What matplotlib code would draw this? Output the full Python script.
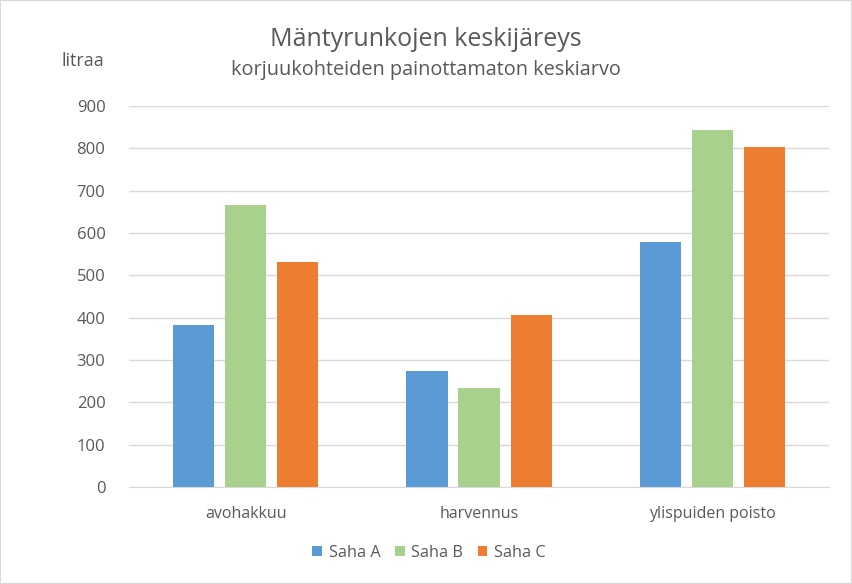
import matplotlib
matplotlib.use("Agg")
import matplotlib.pyplot as plt
import numpy as np
from matplotlib.patches import Rectangle

categories = ["avohakkuu", "harvennus", "ylispuiden poisto"]
series_names = ["Saha A", "Saha B", "Saha C"]
saha_a = [383, 274, 579]
saha_b = [666, 234, 843]
saha_c = [531, 406, 803]
colors = ["#5B9BD5", "#A9D18E", "#ED7D31"]
yticks = [0, 100, 200, 300, 400, 500, 600, 700, 800, 900]

plt.rcParams['font.family'] = ['Open Sans', 'DejaVu Sans']
txt = "#595959"

fig = plt.figure(figsize=(8.52, 5.84), dpi=100)
ax = fig.add_axes([129/852, 1-487/584, 700/852, (487-106)/584])

x = np.arange(len(categories))
w = 0.176
step = 0.223
for i, (vals, name, c) in enumerate(zip([saha_a, saha_b, saha_c], series_names, colors)):
    ax.bar(x + (i-1)*step, vals, width=w, color=c, label=name, zorder=3)

ax.set_xlim(-0.5, 2.5)
ax.set_ylim(0, 900)
ax.set_yticks(yticks)
ax.set_yticklabels([str(t) for t in yticks], color=txt, fontsize=12)
ax.set_xticks(x)
ax.set_xticklabels(categories, color=txt, fontsize=11.5)
ax.tick_params(axis='both', length=0)
ax.tick_params(axis='y', pad=17)
ax.tick_params(axis='x', pad=14)
ax.grid(axis='y', color="#D9D9D9", linewidth=1, zorder=0)
for s in ["top", "right", "left"]:
    ax.spines[s].set_visible(False)
ax.spines["bottom"].set_color("#D9D9D9")

fig.text(0.5, 1-39/584, "Mäntyrunkojen keskijäreys", ha="center", va="center", fontsize=18, color=txt)
fig.text(0.5, 1-70/584, "korjuukohteiden painottamaton keskiarvo", ha="center", va="center", fontsize=14.3, color=txt)
fig.text(62/852, 1-61/584, "litraa", ha="left", va="center", fontsize=13, color=txt)

leg = fig.legend(loc="center", bbox_to_anchor=(429/852, 1-553/584), ncol=3, frameon=False,
                 fontsize=11.7, handlelength=0.6, handleheight=0.6, handletextpad=0.4, columnspacing=0.9)
for t in leg.get_texts():
    t.set_color(txt)

fig.patches.append(Rectangle((0, 0), 1, 1, transform=fig.transFigure, fill=False,
                             edgecolor="#D9D9D9", linewidth=1.5))

fig.savefig("out.png", dpi=100)
